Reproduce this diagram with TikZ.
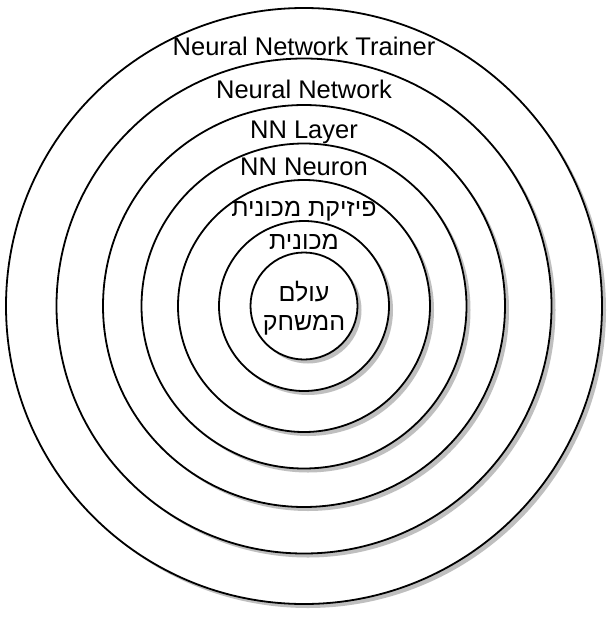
\documentclass[tikz,border=0pt]{standalone}
\usepackage{fontspec}
\setmainfont{Liberation Sans}
\newfontfamily\hebfont[Script=Hebrew]{Liberation Sans}
\TeXXeTstate=1

\begin{document}
\begin{tikzpicture}[x=1pt,y=-1pt,
    ring/.style={circle, draw=black, line width=1.8pt, fill=white, inner sep=0pt},
    ringshadow/.style={fill=black!25},
    lbl/.style={font=\fontsize{25.5}{30}\selectfont, inner sep=0pt, anchor=base},
    heblbl/.style={font=\hebfont\fontsize{25}{28.5}\selectfont, inner sep=0pt, anchor=base, align=center}]
    \useasboundingbox (0,0) rectangle (611,619);
    % rings, outermost first, each over its own shadow
    \fill[ringshadow] (308,310) circle (298);
    \node[ring, minimum size=596pt] (r1) at (304,306) {};
    \fill[ringshadow] (308,310) circle (247.5);
    \node[ring, minimum size=495pt] (r2) at (304,306) {};
    \fill[ringshadow] (308,310) circle (201);
    \node[ring, minimum size=402pt] (r3) at (304,306) {};
    \fill[ringshadow] (308,310) circle (162.5);
    \node[ring, minimum size=325pt] (r4) at (304,306) {};
    \fill[ringshadow] (308,310) circle (126);
    \node[ring, minimum size=252pt] (r5) at (304,306) {};
    \fill[ringshadow] (308,310) circle (85);
    \node[ring, minimum size=170pt] (r6) at (304,306) {};
    \fill[ringshadow] (308,310) circle (53.5);
    \node[ring, minimum size=107pt] (r7) at (304,306) {};
    % labels
    \node[lbl] (l1) at (304,55.7) {Neural Network Trainer};
    \node[lbl] (l2) at (304,98.3) {Neural Network};
    \node[lbl] (l3) at (304,138.3) {NN Layer};
    \node[lbl] (l4) at (304,175) {NN Neuron};
    \node[heblbl] (l5) at (304,216.5) {\beginR פיזיקת מכונית\endR};
    \node[heblbl] (l6) at (304,249) {\beginR מכונית\endR};
    \node[heblbl] (l7) at (304,330) {\beginR עולם\endR\\\beginR המשחק\endR};
\end{tikzpicture}
\end{document}
